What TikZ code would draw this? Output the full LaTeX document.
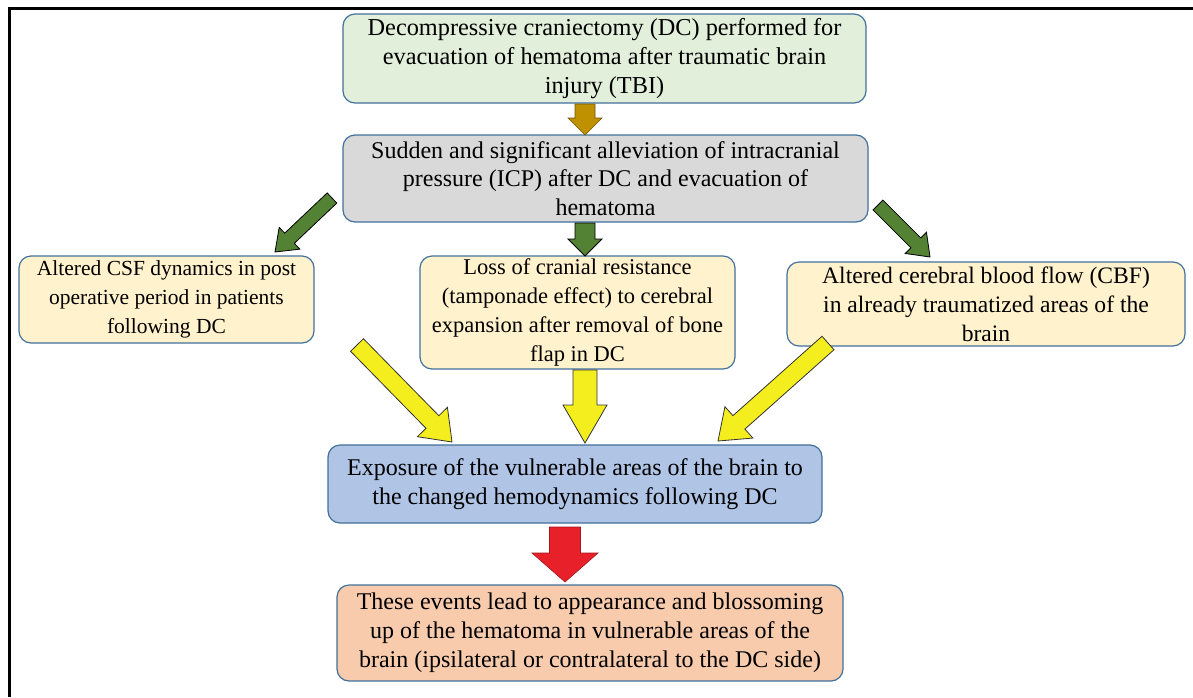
\documentclass[tikz,border=0pt]{standalone}
\usepackage{fontspec}
\setmainfont{Liberation Serif}
\usetikzlibrary{calc}
\definecolor{bordc}{HTML}{41719C}
\definecolor{fgreen}{HTML}{E2EFDA}
\definecolor{fgrey}{HTML}{D9D9D9}
\definecolor{fyell}{HTML}{FFF2CC}
\definecolor{fblue}{HTML}{B0C4E6}
\definecolor{forange}{HTML}{F8CBAD}
\definecolor{abrown}{HTML}{BF9000}
\definecolor{agreen}{HTML}{548235}
\definecolor{ayell}{HTML}{F5EE1E}
\definecolor{ared}{HTML}{E8202A}
\newcommand\blockarrow[6][]{%
  % #1 style, #2 from, #3 to, #4 half shaft, #5 half head, #6 head length
  \coordinate (bah) at ($(#3)!#6!(#2)$);
  \path[#1] ($(#2)!#4!90:(#3)$) -- ($(bah)!#4!90:(#3)$) -- ($(bah)!#5!90:(#3)$)
    -- (#3) -- ($(bah)!#5!-90:(#3)$) -- ($(bah)!#4!-90:(#3)$) -- ($(#2)!#4!-90:(#3)$) -- cycle;
}
\begin{document}
\begin{tikzpicture}[x=1pt,y=-1pt,
  box/.style={draw=bordc, line width=1.2pt, rounded corners=12pt, align=center, inner sep=0pt},
  fs/.style={font=\fontsize{#1}{28.8}\selectfont},
  brownar/.style={fill=abrown, draw=abrown!60!black, line width=0.6pt},
  greenar/.style={fill=agreen, draw=black, line width=0.8pt},
  yellar/.style={fill=ayell, draw=black!80, line width=0.8pt},
  redar/.style={fill=ared, draw=ared!70!black, line width=0.6pt}]
\useasboundingbox (0,0) rectangle (1193,697);
\fill[white] (0,0) rectangle (1193,697);
\draw[line width=3pt] (9,697) -- (9,8) -- (1193,8);

\node[box, fs=24.3, fill=fgreen, minimum width=523pt, minimum height=89pt] (top) at (604.5,58.5)
  {Decompressive craniectomy (DC) performed for\\evacuation of hematoma after traumatic brain\\injury (TBI)};
\node[box, fs=24, fill=fgrey, minimum width=525pt, minimum height=87pt] (icp) at (605.5,178.5)
  {Sudden and significant alleviation of intracranial\\pressure (ICP) after DC and evacuation of\\hematoma};
\node[box, fs=21.5, fill=fyell, minimum width=295pt, minimum height=87pt] (csf) at (166.5,299.5)
  {Altered CSF dynamics in post\\operative period in patients\\following DC};
\node[box, fs=22.5, fill=fyell, minimum width=315pt, minimum height=113pt] (loss) at (577.5,312.5)
  {Loss of cranial resistance\\(tamponade effect) to cerebral\\expansion after removal of bone\\flap in DC};
\node[box, fs=23.6, fill=fyell, minimum width=398pt, minimum height=84pt] (cbf) at (986,304)
  {Altered cerebral blood flow (CBF)\\in already traumatized areas of the\\brain};
\node[box, fs=24, fill=fblue, minimum width=494pt, minimum height=78pt] (exp) at (575,484)
  {Exposure of the vulnerable areas of the brain to\\the changed hemodynamics following DC};
\node[box, fs=24, fill=forange, minimum width=506pt, minimum height=96pt] (out) at (590,633)
  {These events lead to appearance and blossoming\\up of the hematoma in vulnerable areas of the\\brain (ipsilateral or contralateral to the DC side)};

% arrow end points
\coordinate (b1s) at (585,104);
\coordinate (b1e) at (585,135);
\coordinate (g1s) at (332,198);
\coordinate (g1e) at (275,252);
\coordinate (g2s) at (585,223);
\coordinate (g2e) at (585,256);
\coordinate (g3s) at (878,205);
\coordinate (g3e) at (930,257);
\coordinate (y1s) at (357,345);
\coordinate (y1e) at (452,442);
\coordinate (y2s) at (585,370);
\coordinate (y2e) at (585,443);
\coordinate (y3s) at (828,343);
\coordinate (y3e) at (718,441);
\coordinate (r1s) at (565,527);
\coordinate (r1e) at (565,582);

\blockarrow[brownar]{b1s}{b1e}{10pt}{17pt}{17pt}
\blockarrow[greenar]{g1s}{g1e}{7pt}{15pt}{20pt}
\blockarrow[greenar]{g2s}{g2e}{10pt}{17pt}{17pt}
\blockarrow[greenar]{g3s}{g3e}{7pt}{15pt}{20pt}
\blockarrow[yellar]{y1s}{y1e}{9pt}{21pt}{28pt}
\blockarrow[yellar]{y2s}{y2e}{12pt}{22pt}{38pt}
\blockarrow[yellar]{y3s}{y3e}{9pt}{21pt}{28pt}
\blockarrow[redar]{r1s}{r1e}{15.5pt}{33pt}{29pt}
\end{tikzpicture}
\end{document}
